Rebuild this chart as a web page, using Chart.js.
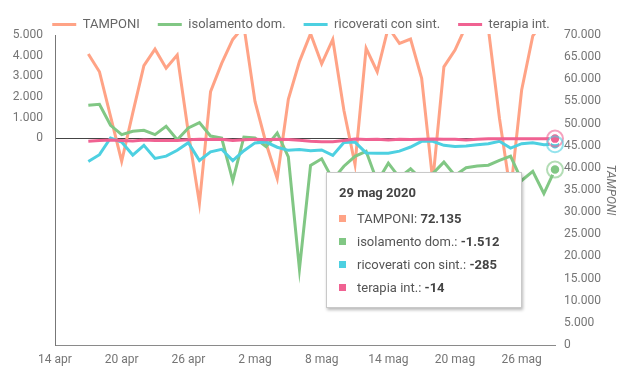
<!DOCTYPE html>
<html><head><meta charset="utf-8">
<script src="https://cdn.jsdelivr.net/npm/chart.js@4"></script>
<style>
html,body{margin:0;padding:0;background:#fff;}
#wrap{position:relative;width:626px;height:380px;}
#tt{position:absolute;display:none;width:196px;background:#fff;border:1px solid #c9c9c9;box-shadow:1px 2px 3px rgba(0,0,0,0.28);font-family:Roboto,sans-serif;font-size:13px;color:#555;pointer-events:none;box-sizing:border-box;padding:12px 12px 11px 12px;}
#tt .t{font-weight:bold;color:#444;line-height:16px;margin-bottom:10px;}
#tt .r{line-height:16px;height:16px;margin-bottom:7px;white-space:nowrap;}
#tt .r:last-child{margin-bottom:0;}
#tt .sq{display:inline-block;width:7px;height:7px;margin-right:11px;vertical-align:1px;}
#tt b{color:#444;}
</style></head>
<body>
<div id="wrap"><canvas id="c" width="626" height="380"></canvas><div id="tt"></div></div>
<script>
const dates = ['14 apr','15 apr','16 apr','17 apr','18 apr','19 apr','20 apr','21 apr','22 apr','23 apr','24 apr','25 apr','26 apr','27 apr','28 apr','29 apr','30 apr',
'1 mag','2 mag','3 mag','4 mag','5 mag','6 mag','7 mag','8 mag','9 mag','10 mag','11 mag','12 mag','13 mag','14 mag','15 mag','16 mag','17 mag','18 mag','19 mag','20 mag','21 mag','22 mag','23 mag','24 mag','25 mag','26 mag','27 mag','28 mag','29 mag'];
const year = '2020';
const tamponi = [null,null,null,65700,61700,51600,41500,52400,63100,66800,62500,65500,48000,32000,57200,63600,69000,
72000,55000,45500,37600,55500,64000,70300,63500,69000,53000,40800,67000,61700,71750,68100,69100,60200,37000,62800,66600,72100,74000,71500,51200,34500,57600,69800,73000,72135];
const isolamento = [null,null,null,1600,1650,630,180,340,390,180,580,-65,500,760,110,15,-2050,
65,15,-400,260,-900,-6330,-1310,-990,-2000,-1350,-870,-630,-2100,-1200,-1900,-1470,-2000,-1700,-1150,-1800,-1420,-1340,-1300,-1070,-860,-2040,-1600,-2670,-1512];
const ricoverati = [null,null,null,-1120,-790,15,-180,-810,-340,-970,-860,-580,-210,-1070,-650,-530,-1080,
-600,-220,-180,-430,-580,-540,-600,-560,-825,-200,-180,-705,-725,-720,-620,-420,-145,-145,-340,-390,-370,-310,-260,-145,-470,-260,-210,-310,-285];
const terapia = [null,null,null,-140,-100,-80,-100,-130,-80,-110,-100,-100,-70,-50,-60,-50,-100,
-70,-40,-70,-40,-60,-90,-140,-170,-160,-100,-30,-60,-50,-75,-50,-60,-50,-35,-40,-40,-80,-40,-20,-20,-20,-20,-20,-15,-14];
const seriesNames = ['TAMPONI','isolamento dom.','ricoverati con sint.','terapia int.'];
const colors = ['#ffa386','#81c784','#4dd0e1','#f06292'];
const rings = ['rgba(255,163,134,0.6)','rgba(129,199,132,0.6)','rgba(77,208,225,0.6)','rgba(240,98,146,0.6)'];
const activeIndex = dates.length - 1;

function fmt(v){
  const s = String(Math.abs(Math.round(v))).replace(/\B(?=(\d{3})+(?!\d))/g,'.');
  return (v<0?'-':'') + s;
}

const FONT = 'Roboto, sans-serif';
Chart.defaults.font.family = FONT;
Chart.defaults.color = '#666';

function ds(i, data, axis){
  return {label: seriesNames[i], data: data, yAxisID: axis, borderColor: colors[i], backgroundColor: colors[i],
    borderWidth: 3, pointRadius: 0, pointHoverRadius: 5, pointHoverBorderWidth: 1.5,
    pointHoverBorderColor: '#fff', pointHoverBackgroundColor: colors[i], tension: 0,
    order: 3 - i,
    clip: {left: 2, top: 1, right: 12, bottom: 2}, ring: rings[i]};
}

const legendFit = {
  id: 'legendFit',
  beforeInit(chart){
    const lg = chart.legend;
    const f = lg.fit;
    lg.fit = function(){ f.bind(lg)(); this.height = 35; };
    const d = lg.draw;
    lg.draw = function(){
      const ctx = chart.ctx;
      ctx.save(); ctx.translate(-12, 0); d.bind(lg)(); ctx.restore();
    };
  }
};
const ringPlugin = {
  id: 'ring',
  afterDatasetsDraw(chart){
    const act = chart.getActiveElements();
    const ctx = chart.ctx, a = chart.chartArea;
    ctx.save();
    ctx.beginPath(); ctx.rect(a.left - 20, a.top, a.right - a.left + 40, a.bottom - a.top); ctx.clip();
    act.slice().sort((p, q) => q.datasetIndex - p.datasetIndex).forEach(e => {
      const d = chart.data.datasets[e.datasetIndex];
      ctx.beginPath(); ctx.arc(e.element.x, e.element.y, 8, 0, Math.PI*2);
      ctx.strokeStyle = d.ring; ctx.lineWidth = 2; ctx.stroke();
    });
    ctx.restore();
  }
};

function external(context){
  const {chart, tooltip} = context;
  const el = document.getElementById('tt');
  if (tooltip.opacity === 0 || !tooltip.dataPoints || !tooltip.dataPoints.length){ el.style.display = 'none'; return; }
  let html = '<div class="t">' + tooltip.title[0] + '</div>';
  tooltip.dataPoints.forEach(dp => {
    html += '<div class="r"><span class="sq" style="background:' + colors[dp.datasetIndex] + '"></span>' +
      dp.dataset.label + ': <b>' + fmt(dp.raw) + '</b></div>';
  });
  el.innerHTML = html;
  el.style.display = 'block';
  el.style.left = (tooltip.caretX - 229) + 'px';
  el.style.top = (chart.chartArea.top + 137) + 'px';
}

const chart = new Chart(document.getElementById('c'), {
  type: 'line',
  data: {
    labels: dates,
    datasets: [ds(0, tamponi, 'yR'), ds(1, isolamento, 'yL'), ds(2, ricoverati, 'yL'), ds(3, terapia, 'yL')]
  },
  plugins: [legendFit, ringPlugin],
  options: {
    responsive: false, animation: false, devicePixelRatio: 1,
    layout: {padding: 0},
    interaction: {mode: 'index', intersect: false},
    plugins: {
      legend: {position: 'top', labels: {usePointStyle: true, pointStyle: 'line', pointStyleWidth: 24,
        font: {size: 13, family: FONT}, color: '#666', padding: 18,
        sort: (a, b) => a.datasetIndex - b.datasetIndex}},
      tooltip: {enabled: false, external: external, mode: 'index', intersect: false,
        itemSort: (a, b) => a.datasetIndex - b.datasetIndex,
        callbacks: {title: items => items[0].label + ' ' + year}}
    },
    scales: {
      x: {type: 'category', offset: false,
        grid: {display: false, drawTicks: false},
        border: {display: true, color: '#8a8a8a', width: 1},
        ticks: {autoSkip: false, maxRotation: 0, padding: 8, font: {size: 12}, color: '#757575',
          callback: function(v, i){ return i % 6 === 0 ? dates[i] : ''; }},
        afterFit: s => { s.height = 35; }
      },
      yL: {type: 'linear', position: 'left', min: -10000, max: 5000,
        ticks: {stepSize: 1000, padding: 12, font: {size: 12}, color: '#757575',
          callback: v => v < 0 ? '' : fmt(v)},
        grid: {drawTicks: false, color: c => (c.tick && c.tick.value === 0) ? '#444' : 'rgba(0,0,0,0)', lineWidth: 1},
        border: {display: true, color: '#777', width: 1},
        afterFit: s => { s.width = 55; }
      },
      yR: {type: 'linear', position: 'right', min: 0, max: 70000,
        ticks: {stepSize: 5000, padding: 9, font: {size: 12}, color: '#757575', callback: v => fmt(v)},
        grid: {display: false, drawTicks: false},
        border: {display: false},
        title: {display: true, text: 'TAMPONI', color: '#757575', font: {size: 12, style: 'italic'}, padding: 9},
        afterFit: s => { s.width = 71; }
      }
    }
  }
});

const active = [0,1,2,3].map(i => ({datasetIndex: i, index: activeIndex}));
const m = chart.getDatasetMeta(2).data[activeIndex];
chart.tooltip.setActiveElements(active, {x: m.x, y: m.y});
chart.setActiveElements(active);
chart.update();
</script>
</body></html>
